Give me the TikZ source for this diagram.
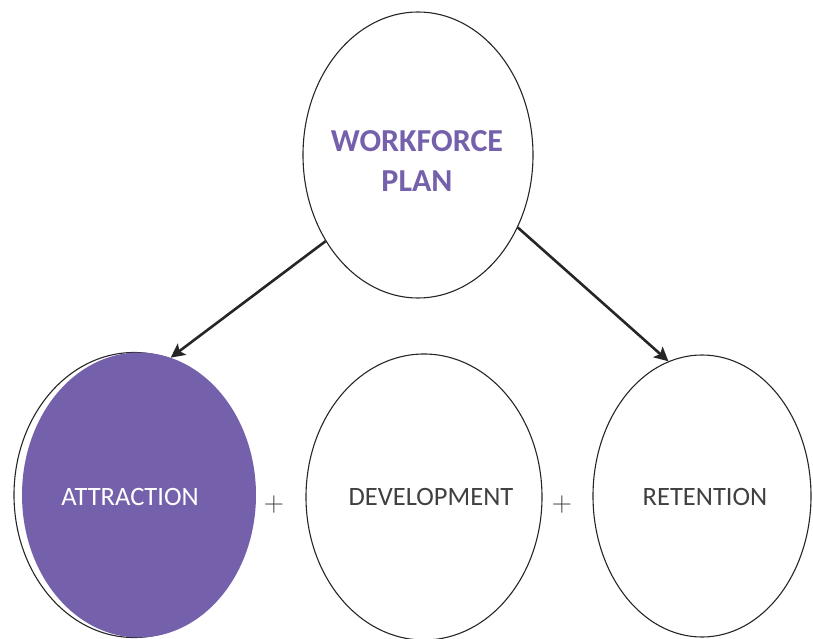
\documentclass[tikz,border=0pt]{standalone}
\usepackage{fontspec}
\setmainfont{Carlito}
\newfontfamily\plusfont{Latin Modern Roman}
\usetikzlibrary{shapes.geometric,arrows.meta}
\definecolor{planpurple}{HTML}{7561AB}
\definecolor{labelgray}{HTML}{404040}
\tikzset{
  bubble/.style={ellipse, draw=black!85, line width=1.1pt, inner sep=0pt,
    minimum width=#1},
  bubble/.default=232pt,
  flow/.style={draw=black!85, line width=2.6pt,
    -{Stealth[length=14pt,width=14pt,inset=3pt]}},
  plus/.style={font=\plusfont\fontsize{28}{28}\selectfont, text=black!75},
  lbl/.style={font=\fontsize{26.5}{30}\selectfont, text=labelgray},
}
\begin{document}
\begin{tikzpicture}[x=1pt,y=-1pt]
  \useasboundingbox (0,0) rectangle (813,639);

  % top-level plan
  \node[bubble=230pt, minimum height=286pt] (plan) at (418,155) {};
  \node[font=\fontsize{32}{40}\selectfont\bfseries, text=planpurple, align=center]
    (plantext) at (417,161) {WORKFORCE\\PLAN};

  % three components
  \node[bubble=240pt, minimum height=285pt] (attrshadow) at (134,495) {};
  \node[ellipse, fill=planpurple, inner sep=0pt, minimum width=234pt,
    minimum height=285pt] (attr) at (139,495) {};
  \node[lbl, text=white] (attrtext) at (130,497) {ATTRACTION};

  \node[bubble=236pt, minimum height=286pt] (dev) at (424,497) {};
  \node[lbl] (devtext) at (431,497) {DEVELOPMENT};

  \node[bubble=218pt, minimum height=282pt] (ret) at (702,496) {};
  \node[lbl] (rettext) at (705,497) {RETENTION};

  % sums between the components
  \node[plus] (plus1) at (274,505) {+};
  \node[plus] (plus2) at (562,505) {+};

  % arrows from the plan
  \draw[flow] (plan.223) -- (attr.77);
  \draw[flow] (plan.-36) -- (ret.104);
\end{tikzpicture}
\end{document}
